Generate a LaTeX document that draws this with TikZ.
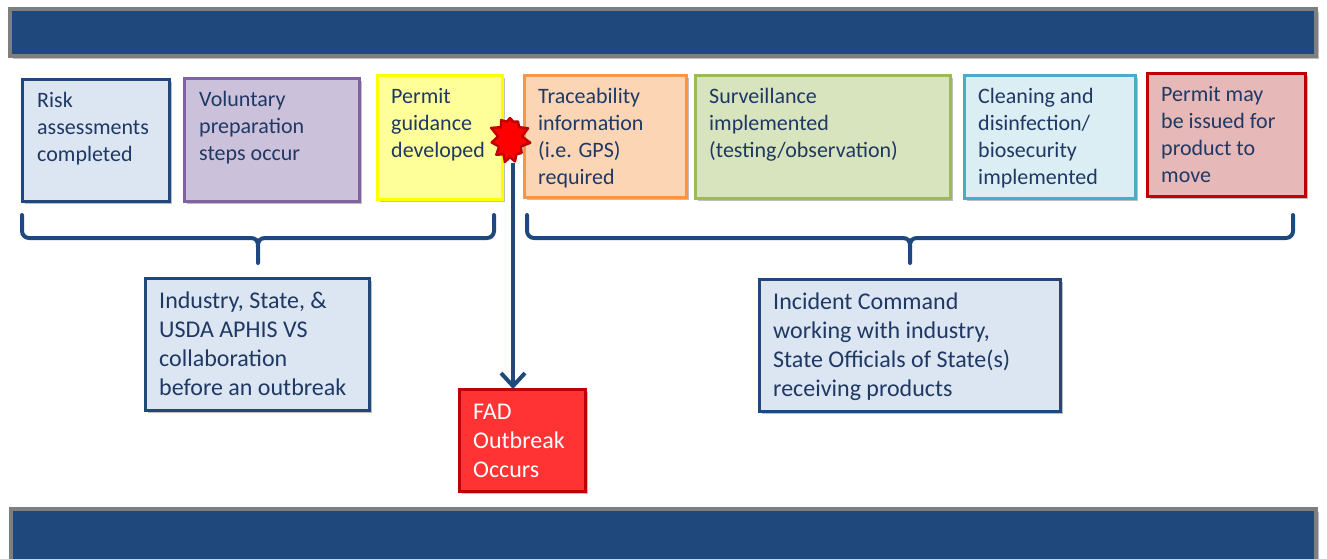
\documentclass[tikz,border=0pt]{standalone}
\usepackage{fontspec}
\setmainfont{Carlito}
\usetikzlibrary{shadows,shapes.symbols,arrows.meta}
\definecolor{navy}{HTML}{1F497D}
\definecolor{txtblue}{HTML}{1F3864}
\definecolor{bargray}{HTML}{7F7F7F}
\definecolor{fBlue}{HTML}{DCE6F2}
\definecolor{fPurple}{HTML}{CCC1DA}
\definecolor{dPurple}{HTML}{8064A2}
\definecolor{fYellow}{HTML}{FFFF99}
\definecolor{dYellow}{HTML}{FFFF00}
\definecolor{fOrange}{HTML}{FCD5B5}
\definecolor{dOrange}{HTML}{F79646}
\definecolor{fGreen}{HTML}{D7E4BD}
\definecolor{dGreen}{HTML}{9BBB59}
\definecolor{fCyan}{HTML}{DBEEF4}
\definecolor{dCyan}{HTML}{4BACC6}
\definecolor{fRose}{HTML}{E6B9B8}
\definecolor{dRed}{HTML}{C00000}
\definecolor{fRed}{HTML}{FF3333}
\tikzset{
  shad/.style={drop shadow={shadow xshift=3pt,shadow yshift=-3pt,opacity=0.25,fill=black}},
  boxx/.style={rectangle,anchor=north west,inner sep=0pt,outer sep=0pt,line width=3pt,shad},
  stxt/.style={anchor=north west,inner sep=0pt,align=left,text=txtblue,font=\fontsize{22}{27}\selectfont},
  btxt/.style={anchor=north west,inner sep=0pt,align=left,text=txtblue,font=\fontsize{24}{29}\selectfont},
  bar/.style={draw=bargray,fill=navy,line width=4pt,shad},
  brace/.style={draw=navy,line width=4pt,line cap=round,line join=round},
  arr/.style={draw=navy,line width=4pt,-{Straight Barb[length=13pt,width=24pt]}},
}
\begin{document}
\begin{tikzpicture}[x=1pt,y=-1pt]
\useasboundingbox (0,0) rectangle (1327,558);
\begin{scope}
\clip (0,0) rectangle (1327,558);
% bars
\path[bar] (10,9) rectangle (1316,56);
\path[bar] (11,509) rectangle (1316,562);
\end{scope}
% top boxes
\node[boxx,draw=navy,fill=fBlue,minimum width=147pt,minimum height=122pt] (b1) at (22,79) {};
\node[stxt] (t1) at ([shift={(15,9)}]b1.north west) {\strut Risk\\assessments\\completed};
\node[boxx,draw=dPurple,fill=fPurple,minimum width=175pt,minimum height=123pt] (b2) at (184,78) {};
\node[stxt] (t2) at ([shift={(15,9)}]b2.north west) {\strut Voluntary\\preparation\\steps occur};
\node[boxx,draw=dYellow,fill=fYellow,minimum width=125pt,minimum height=124pt] (b3) at (377,75) {};
\node[stxt] (t3) at ([shift={(14,9)}]b3.north west) {\strut Permit\\guidance\\developed};
\node[boxx,draw=dOrange,fill=fOrange,minimum width=162pt,minimum height=122pt] (b4) at (524,75) {};
\node[stxt] (t4) at ([shift={(14,9)}]b4.north west) {\strut Traceability\\information\\(i.e. GPS)\\required};
\node[boxx,draw=dGreen,fill=fGreen,minimum width=255pt,minimum height=123pt] (b5) at (695,75) {};
\node[stxt] (t5) at ([shift={(14,9)}]b5.north west) {\strut Surveillance\\implemented\\(testing/observation)};
\node[boxx,draw=dCyan,fill=fCyan,minimum width=171pt,minimum height=123pt] (b6) at (964,75) {};
\node[stxt] (t6) at ([shift={(14,9)}]b6.north west) {\strut Cleaning and\\disinfection/\\biosecurity\\implemented};
\node[boxx,draw=dRed,fill=fRose,minimum width=158pt,minimum height=123pt] (b7) at (1147,73) {};
\node[stxt] (t7) at ([shift={(14,9)}]b7.north west) {\strut Permit may\\be issued for\\product to\\move};
% braces
\coordinate (lbA) at (22,215);
\coordinate (lbB) at (494,215);
\coordinate (lbT) at (258,263);
\draw[brace,rounded corners=7pt] (lbA) -- (22,238) -- (250,238);
\draw[brace] (250,238) .. controls (256,238) and (258,240) .. (258,247) -- (lbT);
\draw[brace,rounded corners=7pt] (lbB) -- (494,238) -- (266,238);
\draw[brace] (266,238) .. controls (260,238) and (258,240) .. (258,247);
\coordinate (rbA) at (527,215);
\coordinate (rbB) at (1293,215);
\coordinate (rbT) at (910,263);
\draw[brace,rounded corners=7pt] (rbA) -- (527,238) -- (902,238);
\draw[brace] (902,238) .. controls (908,238) and (910,240) .. (910,247) -- (rbT);
\draw[brace,rounded corners=7pt] (rbB) -- (1293,238) -- (918,238);
\draw[brace] (918,238) .. controls (912,238) and (910,240) .. (910,247);
% lower boxes
\node[boxx,draw=navy,fill=fBlue,minimum width=224pt,minimum height=132pt] (ind) at (145,278) {};
\node[btxt] (tind) at ([shift={(14,10)}]ind.north west) {\strut Industry, State, \&\\USDA APHIS VS\\collaboration\\before an outbreak};
\node[boxx,draw=navy,fill=fBlue,minimum width=301pt,minimum height=132pt] (inc) at (759,279) {};
\node[btxt] (tinc) at ([shift={(14,10)}]inc.north west) {\strut Incident Command\\working with industry,\\State Officials of State(s)\\receiving products};
\node[boxx,draw=dRed,fill=fRed,minimum width=126pt,minimum height=102pt] (fad) at (459,389) {};
\node[btxt,text=white] (tfad) at ([shift={(14,10)}]fad.north west) {\strut FAD\\Outbreak\\Occurs};
% starburst and arrow
\node[starburst,starburst points=11,starburst point height=9pt,random starburst=3,minimum width=42pt,minimum height=54pt,inner sep=0pt,fill=red,draw=dRed,line width=2.5pt,line join=round] (burst) at (510,139) {};
\coordinate (arrTop) at (513,163);
\draw[arr] (arrTop) -- (arrTop |- fad.north);
\end{tikzpicture}
\end{document}
